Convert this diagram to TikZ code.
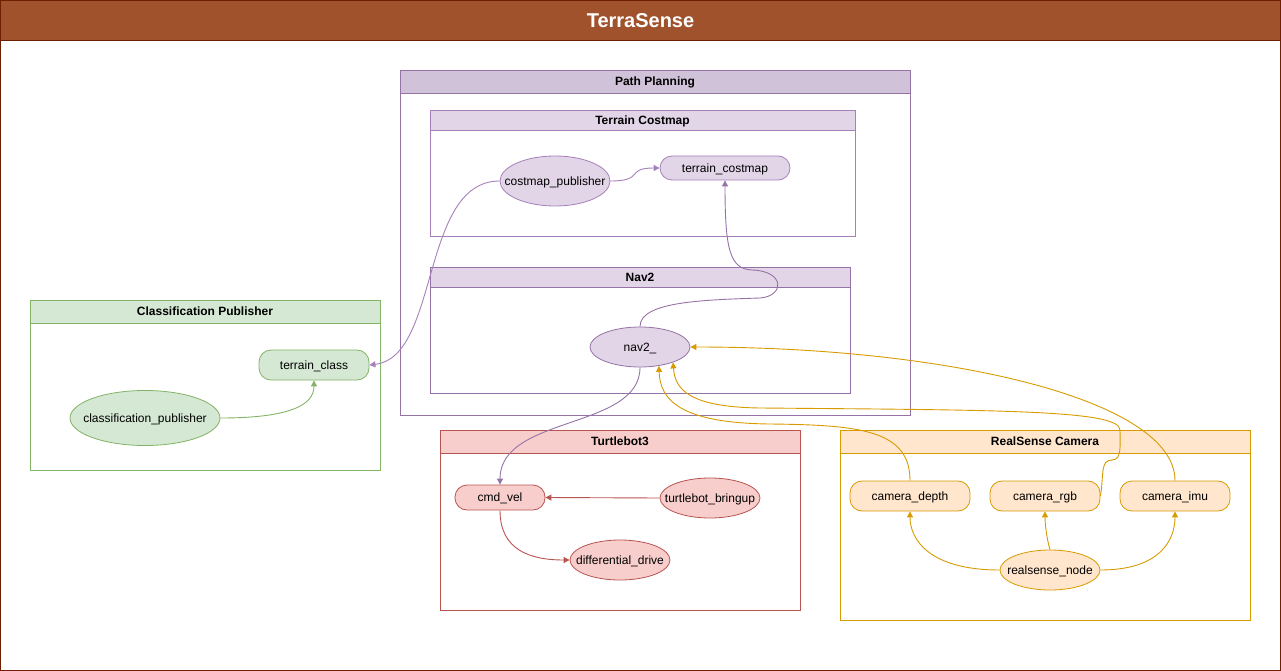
\documentclass[tikz,border=0pt]{standalone}
\usepackage{fontspec}
\setmainfont{Liberation Sans}
\usetikzlibrary{shapes.geometric,arrows.meta}

\definecolor{siennafill}{HTML}{A0522D}
\definecolor{siennaline}{HTML}{6D1F00}
\definecolor{ppfill}{HTML}{D0C3D9}
\definecolor{purplefill}{HTML}{E1D5E7}
\definecolor{purpleline}{HTML}{9673A6}
\definecolor{lilacline}{HTML}{A680B8}
\definecolor{greenfill}{HTML}{D5E8D4}
\definecolor{greenline}{HTML}{82B366}
\definecolor{redfill}{HTML}{F8CECC}
\definecolor{redline}{HTML}{B85450}
\definecolor{orangefill}{HTML}{FFE6CC}
\definecolor{orangeline}{HTML}{D79B00}

\tikzstyle{hdr} = [draw, inner sep=0pt, text depth=0pt, font=\fontsize{12}{14}\selectfont\bfseries, line width=0.8pt]
\tikzstyle{topic} = [draw, rounded corners=12pt, inner sep=0pt, text depth=0pt, minimum height=30pt, font=\fontsize{12}{14}\selectfont, line width=0.8pt]
\tikzstyle{proc} = [ellipse, draw, inner xsep=-12pt, inner ysep=0pt, text depth=0pt, minimum width=100pt, minimum height=40pt, font=\fontsize{12}{14}\selectfont, line width=0.8pt]
\tikzstyle{link} = [line width=0.9pt, -{Triangle[length=6pt,width=6pt]}]

\begin{document}
\begin{tikzpicture}[x=1pt,y=-1pt]
        \useasboundingbox (0,0) rectangle (1281,671);
        % Outer frame with title
        \draw[siennaline, line width=0.8pt] (0.5,0.5) rectangle (1280.5,670.5);
        \node (title) at (640.5,20.5) [hdr, fill=siennafill, draw=siennaline, text=white, minimum width=1280pt, minimum height=40pt, font=\fontsize{20}{24}\selectfont\bfseries] {TerraSense};

        % Groups
        \draw[purpleline, line width=0.8pt] (400,93) rectangle (910,415);
        \node (pphead) at (655,81.5) [hdr, fill=ppfill, draw=purpleline, minimum width=510pt, minimum height=23pt] {Path Planning};
        \draw[lilacline, line width=0.8pt] (430,130) rectangle (855,236);
        \node (tchead) at (642.5,120) [hdr, fill=purplefill, draw=lilacline, minimum width=425pt, minimum height=20pt] {Terrain Costmap};
        \draw[purpleline, line width=0.8pt] (430,287) rectangle (850,393);
        \node (navhead) at (640,277) [hdr, fill=purplefill, draw=purpleline, minimum width=420pt, minimum height=20pt] {Nav2};
        \draw[greenline, line width=0.8pt] (30,323) rectangle (380,470);
        \node (cphead) at (205,311.5) [hdr, fill=greenfill, draw=greenline, minimum width=350pt, minimum height=23pt] {Classification Publisher};
        \draw[redline, line width=0.8pt] (440,453) rectangle (800,610);
        \node (tbhead) at (620,441.5) [hdr, fill=redfill, draw=redline, minimum width=360pt, minimum height=23pt] {Turtlebot3};
        \draw[orangeline, line width=0.8pt] (840,453) rectangle (1250,620);
        \node (rshead) at (1045,441.5) [hdr, fill=orangefill, draw=orangeline, minimum width=410pt, minimum height=23pt] {RealSense Camera};

        % Nodes and topics
        \node (cmpub) at (555,181) [proc, fill=purplefill, draw=lilacline, minimum width=110pt, minimum height=50pt] {costmap\_publisher};
        \node (tcost) at (725,168) [topic, fill=purplefill, draw=lilacline, minimum width=130pt, minimum height=24pt] {terrain\_costmap};
        \node (nav2) at (640,347) [proc, fill=purplefill, draw=purpleline] {nav2\_};
        \node (tclass) at (314,365) [topic, fill=greenfill, draw=greenline, minimum width=110pt] {terrain\_class};
        \node (clspub) at (145,418) [proc, fill=greenfill, draw=greenline, minimum width=150pt, minimum height=55pt] {classification\_publisher};
        \node (cmdvel) at (500,497.5) [topic, fill=redfill, draw=redline, minimum width=90pt, minimum height=25pt] {cmd\_vel};
        \node (bringup) at (710,498) [proc, fill=redfill, draw=redline] {turtlebot\_bringup};
        \node (diffdrive) at (620,560) [proc, fill=redfill, draw=redline] {differential\_drive};
        \node (cdepth) at (910,496) [topic, fill=orangefill, draw=orangeline, minimum width=120pt] {camera\_depth};
        \node (crgb) at (1045,496) [topic, fill=orangefill, draw=orangeline, minimum width=110pt] {camera\_rgb};
        \node (cimu) at (1175,496) [topic, fill=orangefill, draw=orangeline, minimum width=110pt] {camera\_imu};
        \node (rsnode) at (1050,570) [proc, fill=orangefill, draw=orangeline] {realsense\_node};

        % Connections
        \draw[link, greenline] (clspub.east) .. controls (290,418) and (314,405) .. (tclass.south);
        \draw[link, lilacline] (cmpub.west) .. controls (420,181) and (440,357) .. (tclass.east);
        \draw[link, lilacline] (cmpub.east) .. controls (645,181) and (625,168) .. (tcost.west);
        \draw[link, purpleline] (nav2.north) .. controls (640,302) and (700,300) .. (760,298) .. controls (785,296) and (785,271) .. (752,270) .. controls (730,269) and (725,250) .. (tcost.south);
        \draw[link, purpleline] (nav2.south) .. controls (640,430) and (500,415) .. (cmdvel.north);
        \draw[link, redline] (bringup.west) -- (cmdvel.east);
        \draw[link, redline] (cmdvel.south) .. controls (500,550) and (530,560) .. (diffdrive.west);
        \draw[link, orangeline] (rsnode.west) .. controls (930,570) and (910,540) .. (cdepth.south);
        \draw[link, orangeline] (rsnode.north) .. controls (1047,540) and (1045,525) .. (crgb.south);
        \draw[link, orangeline] (rsnode.east) .. controls (1160,570) and (1175,540) .. (cimu.south);
        \draw[link, orangeline] (cdepth.north) .. controls (910,430) and (860,425) .. (770,424) .. controls (680,423) and (660,400) .. (nav2.-45);
        \draw[link, orangeline] (crgb.east) .. controls (1104,475) and (1100,460) .. (1112,460) .. controls (1122,460) and (1120,445) .. (1120,430) .. controls (1120,410) and (1000,410) .. (760,408) .. controls (690,407) and (675,390) .. (nav2.-25);
        \draw[link, orangeline] (cimu.north) .. controls (1175,400) and (950,347) .. (nav2.east);
    \end{tikzpicture}
\end{document}
